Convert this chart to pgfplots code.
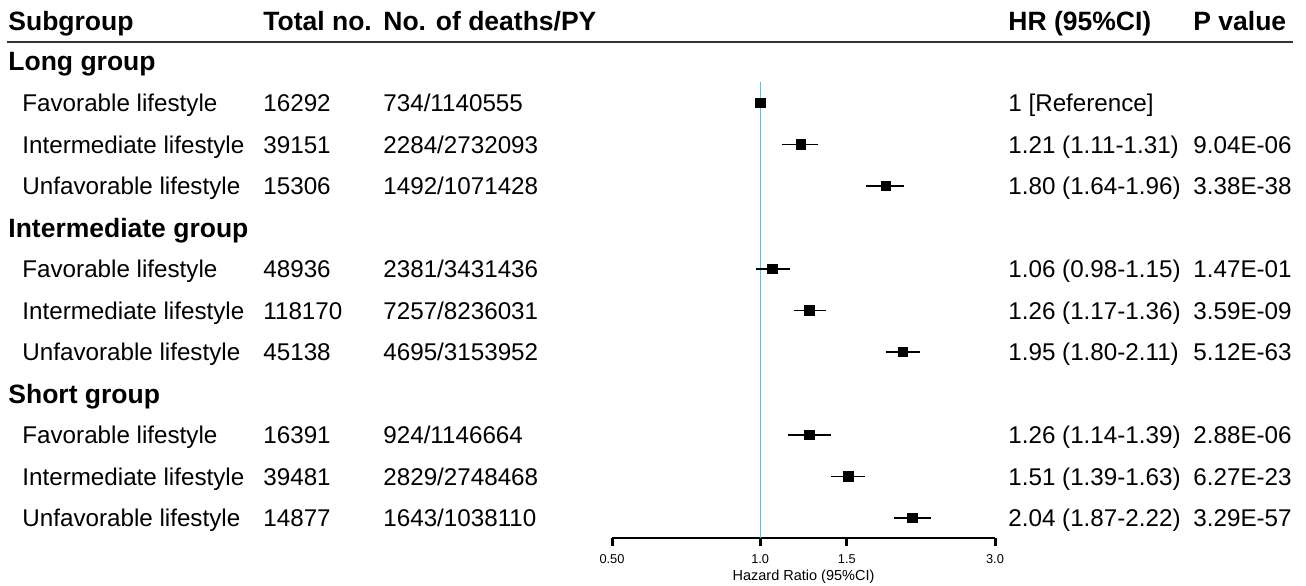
\documentclass[border=0pt]{standalone}
\usepackage{fontspec}
\setmainfont{Liberation Sans}
\usepackage{pgfplots}
\pgfplotsset{compat=1.18}
\usepackage{pgfplotstable}

\definecolor{refblue}{RGB}{125,180,205}
\newcommand\rowfont{\fontsize{12.1}{14}\selectfont}
\newcommand\hdrfont{\fontsize{13.25}{15}\selectfont\bfseries}

% k = row index (group headers sit on k = 0, 4, 8)
\pgfplotstableread{
k hr lo hi
1 1.00 1.00 1.00
2 1.21 1.11 1.31
3 1.80 1.64 1.96
5 1.06 0.98 1.15
6 1.26 1.17 1.36
7 1.95 1.80 2.11
9 1.26 1.14 1.39
10 1.51 1.39 1.63
11 2.04 1.87 2.22
}\hrtable

% row text: k, subgroup, total, deaths/PY, HR (CI), P
\newcommand\rowtext[6]{%
  \pgfmathsetmacro\yb{61.5+41.5*#1+8.7}
  \node[anchor=base west, inner sep=0pt, font=\rowfont] at (22,\yb) {#2};
  \node[anchor=base west, inner sep=0pt, font=\rowfont] at (263,\yb) {#3};
  \node[anchor=base west, inner sep=0pt, font=\rowfont] at (383,\yb) {#4};
  \node[anchor=base west, inner sep=0pt, font=\rowfont] at (1008,\yb) {#5};
  \node[anchor=base west, inner sep=0pt, font=\rowfont] at (1193,\yb) {#6};
}
\newcommand\grouptext[2]{%
  \pgfmathsetmacro\yb{61.5+41.5*#1+9.5}
  \node[anchor=base west, inner sep=0pt, font=\hdrfont] at (8,\yb) {#2};
}

\begin{document}
\begin{tikzpicture}
\begin{axis}[
    at={(306pt,23.5pt)}, anchor=south west,
    scale only axis, width=191.5pt, height=228pt,
    xmode=log, xmin=0.5, xmax=3,
    ymin=0.494, ymax=11.482, y dir=reverse,
    axis x line=bottom, axis y line=none,
    x axis line style={-, line width=1pt},
    xtick={0.5,1,1.5,3}, xticklabels={0.50,1.0,1.5,3.0},
    minor xtick={},
    xtick align=outside, major tick length=4pt,
    xtick style={line width=1.5pt, black},
    xticklabel style={font=\fontsize{6.4}{7}\selectfont, inner sep=0pt, yshift=-4.3pt},
    clip=false,
]
\addplot[refblue, line width=0.6pt] coordinates {(1,0.494) (1,11.482)};
\addplot[only marks, mark=none,
    error bars/.cd, x dir=both, x explicit,
    error mark=none, error bar style={draw=black, line width=0.8pt, solid}]
    table[x=hr, y=k,
          x error plus expr=\thisrow{hi}-\thisrow{hr},
          x error minus expr=\thisrow{hr}-\thisrow{lo}] {\hrtable};
\addplot[only marks, mark=square*, mark size=2.4pt, black] table[x=hr, y=k] {\hrtable};
\end{axis}

\begin{scope}[x=0.5pt, y=-0.5pt, yshift=292.5pt]
\path (0,0) rectangle (1306,585);
\node[anchor=base west, inner sep=0pt, font=\hdrfont] at (8,31) {Subgroup};
\node[anchor=base west, inner sep=0pt, font=\hdrfont] at (263,31) {Total no.};
\node[anchor=base west, inner sep=0pt, font=\hdrfont] at (383,31) {No. of deaths/PY};
\node[anchor=base west, inner sep=0pt, font=\hdrfont] at (1008,31) {HR (95\%CI)};
\node[anchor=base west, inner sep=0pt, font=\hdrfont] at (1193,31) {P value};
\draw[black!80, line width=1pt] (7,42) -- (1293,42);

\grouptext{0}{Long group}
\rowtext{1}{Favorable lifestyle}{16292}{734/1140555}{1 [Reference]}{}
\rowtext{2}{Intermediate lifestyle}{39151}{2284/2732093}{1.21 (1.11-1.31)}{9.04E-06}
\rowtext{3}{Unfavorable lifestyle}{15306}{1492/1071428}{1.80 (1.64-1.96)}{3.38E-38}
\grouptext{4}{Intermediate group}
\rowtext{5}{Favorable lifestyle}{48936}{2381/3431436}{1.06 (0.98-1.15)}{1.47E-01}
\rowtext{6}{Intermediate lifestyle}{118170}{7257/8236031}{1.26 (1.17-1.36)}{3.59E-09}
\rowtext{7}{Unfavorable lifestyle}{45138}{4695/3153952}{1.95 (1.80-2.11)}{5.12E-63}
\grouptext{8}{Short group}
\rowtext{9}{Favorable lifestyle}{16391}{924/1146664}{1.26 (1.14-1.39)}{2.88E-06}
\rowtext{10}{Intermediate lifestyle}{39481}{2829/2748468}{1.51 (1.39-1.63)}{6.27E-23}
\rowtext{11}{Unfavorable lifestyle}{14877}{1643/1038110}{2.04 (1.87-2.22)}{3.29E-57}

\node[font=\fontsize{7.25}{8}\selectfont, inner sep=0pt] at (803.5,576.5) {Hazard Ratio (95\%CI)};
\end{scope}
\end{tikzpicture}
\end{document}
